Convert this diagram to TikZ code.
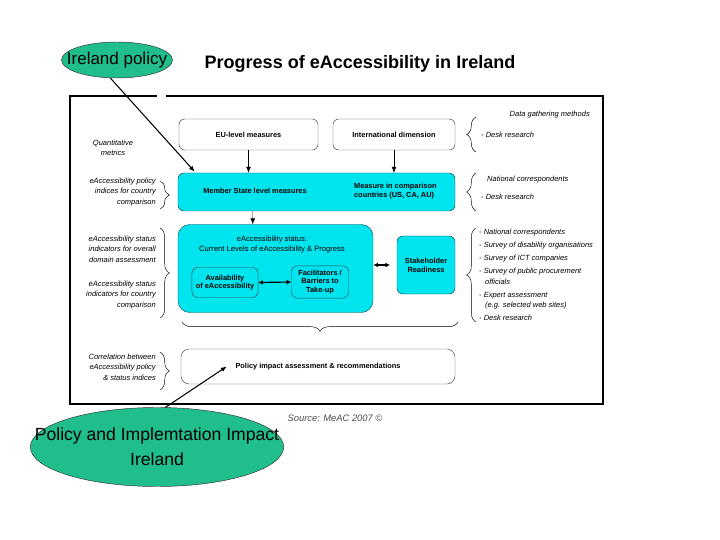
\documentclass[tikz,border=0pt]{standalone}
\usepackage{fontspec}
\setmainfont{Liberation Sans}
\usetikzlibrary{arrows.meta,decorations.pathreplacing,shapes.geometric,calc}
\definecolor{ovalgreen}{RGB}{32,190,140}
\definecolor{boxcyan}{RGB}{0,228,238}
\definecolor{boxedge}{RGB}{40,70,80}

\begin{document}
\begin{tikzpicture}[x=0.03cm, y=-0.03cm,
    oval/.style={ellipse, draw=black!80, fill=ovalgreen, inner sep=0pt},
    wbox/.style={rectangle, draw=black!70, rounded corners=5pt, fill=white, align=center, font=\fontsize{6.3}{7.5}\selectfont\bfseries},
    cbox/.style={wbox, fill=boxcyan, draw=boxedge},
    note/.style={inner sep=0pt, align=right, font=\fontsize{6.4}{9}\selectfont\itshape},
    method/.style={inner sep=0pt, anchor=west, align=left, font=\fontsize{6.4}{9}\selectfont\itshape},
    link/.style={-{Latex[length=5pt,width=4pt]}, thin},
    both/.style={{Latex[length=4pt,width=4pt]}-{Latex[length=4pt,width=4pt]}, line width=1pt},
    curly/.style={decorate, decoration={brace, amplitude=8pt}, thin}
]
\useasboundingbox (0,0) rectangle (720,540);

\node[oval, minimum width=3.33cm, minimum height=1.08cm] (ireland) at (117,60) {};
\node[font=\fontsize{14.5}{16}\selectfont] (irelandtext) at (ireland) {Ireland policy};
\node[font=\fontsize{15.4}{18}\selectfont\bfseries] (title) at (360,64) {Progress of eAccessibility in Ireland};

\draw[line width=2.2pt] (157,96) -| (70,404) -| (603,96) -- (166,96);

\node[wbox, minimum width=4.17cm, minimum height=0.93cm] (eu) at (248.5,134.5) {EU-level measures};
\node[wbox, minimum width=3.66cm, minimum height=0.93cm] (intl) at (394,134.5) {International dimension};
\node[cbox, minimum width=8.31cm, minimum height=1.14cm] (member) at (316.5,192) {};
\node[font=\fontsize{6.3}{7.5}\selectfont\bfseries] (memberl) at (255,191) {Member State level measures};
\node[anchor=west, align=left, font=\fontsize{6.3}{8}\selectfont\bfseries] (memberr) at (350,191) {Measure in comparison\\countries (US, CA, AU)};

\node[cbox, rounded corners=10pt, minimum width=5.85cm, minimum height=2.64cm] (status) at (275.5,268.5) {};
\node[align=center, font=\fontsize{6.5}{8.5}\selectfont] (statustitle) at (272,245) {eAccessibility status:\\Current Levels of eAccessibility \& Progress};
\node[cbox, minimum width=1.68cm, minimum height=0.9cm] (avail) at (225,282.5) {Availability\\of eAccessibility};
\node[cbox, minimum width=1.71cm, minimum height=0.9cm] (facil) at (320,282) {Facilitators /\\Barriers to\\Take-up};
\node[cbox, minimum width=1.74cm, minimum height=1.74cm] (stake) at (426,265) {Stakeholder\\Readiness};
\node[wbox, rounded corners=7pt, minimum width=8.22cm, minimum height=1.05cm] (impact) at (318,366.5) {Policy impact assessment \& recommendations};

\draw[link] (eu.south) -- (eu.south |- member.north);
\draw[link] (intl.south) -- (intl.south |- member.north);
\draw[link] ($(member.south west)+(75,0)$) -- ($(status.north west)+(75,0)$);
\draw[both] (avail.east) -- (facil.west);
\draw[both, shorten >=0.2cm] (status.east |- stake.west) -- (stake.west);

\node[note, align=center] (quant) at (113,148) {Quantitative\\metrics};
\node[note, anchor=east] (policyidx) at (156,192) {eAccessibility policy\\indices for country\\comparison};
\node[note, anchor=east] (statusdom) at (156,249) {eAccessibility status\\indicators for overall\\domain assessment};
\node[note, anchor=east] (statuscty) at (156,295) {eAccessibility status\\indicators for country\\comparison};
\node[note, anchor=east] (correl) at (156,367) {Correlation between\\eAccessibility policy\\\& status indices};

\draw[curly] (160,181) -- (160,209);
\draw[curly] (160,228) -- (160,318);
\draw[curly] (160,352) -- (160,390);

\node[method, anchor=east] (methods) at (590,115) {Data gathering methods};
\node[method] (desk1) at (481,135) {- Desk research};
\node[method] (natcorr) at (487,180) {National correspondents};
\node[method] (desk2) at (481,197) {- Desk research};
\node[method] (surveys) at (479,275) {- National correspondents\\[2pt]
  - Survey of disability organisations\\[2pt]
  - Survey of ICT companies\\[2pt]
  - Survey of public procurement\\ \hspace*{5pt}officials\\[2pt]
  - Expert assessment\\ \hspace*{5pt}(e.g. selected web sites)\\[2pt]
  - Desk research};

\draw[curly] (476,152) -- (476,117);
\draw[curly] (476,211) -- (476,173);
\draw[curly] (476,322) -- (476,228);
\draw[curly] (458,322) -- (182,322);

\node[font=\fontsize{8}{9}\selectfont\itshape, text=black!70] (source) at (335,418) {Source: MeAC 2007 ©};

\node[oval, minimum width=7.6cm, minimum height=2.37cm] (impactoval) at (157,447) {};
\node[align=center, font=\fontsize{15}{21}\selectfont] (impactovaltext) at (impactoval) {Policy and Implemtation Impact\\Ireland};

\draw[link, line width=0.9pt] (ireland.250) -- ($(member.north west)+(17,-1)$);
\draw[link, line width=0.9pt] (impactoval.78) -- ($(impact.west)+(46,0)$);

\end{tikzpicture}
\end{document}
